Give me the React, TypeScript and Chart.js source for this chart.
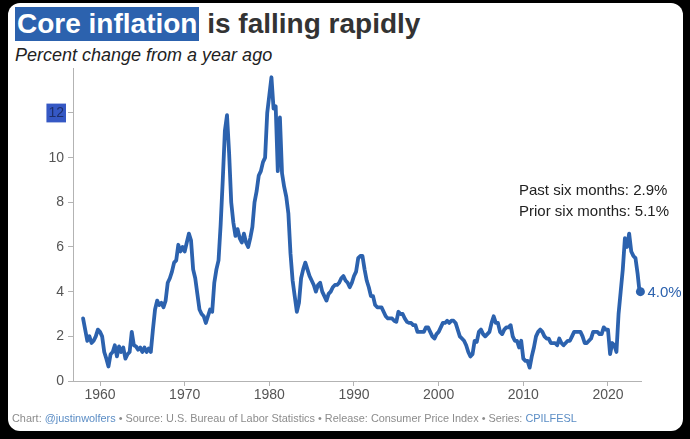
import React, { useEffect, useRef } from "react";
import { Chart, registerables } from "chart.js";

Chart.register(...registerables);

// Core CPI (CPILFESL), percent change from a year ago, quarterly readings 1958-2022
const firstYear = 1958;
const quarterlyValues: number[] = [
  // 1958-1967
  2.8, 2.3, 1.8, 2.0, 1.7, 1.8, 2.0, 2.3, 2.2, 2.0, 1.3, 1.0, 0.65, 1.2, 1.3, 1.6,
  1.1, 1.55, 1.3, 1.5, 1.0, 1.2, 1.3, 2.2, 1.6, 1.55, 1.4, 1.5, 1.3, 1.5, 1.3, 1.45,
  1.3, 2.3, 3.2, 3.6, 3.4, 3.5, 3.3, 3.6,
  // 1968-1977
  4.4, 4.6, 4.9, 5.3, 5.4, 6.1, 5.8, 6.0, 5.8, 6.2, 6.6, 6.3, 5.0, 4.6, 3.9, 3.2,
  3.0, 2.9, 2.6, 2.9, 3.2, 3.1, 4.4, 5.0, 5.4, 7.0, 9.0, 11.2, 11.9, 10.2, 8.0, 7.1,
  6.5, 6.8, 6.4, 6.2, 6.6, 6.2, 6.0, 6.4,
  // 1978-1987
  6.9, 8.0, 8.5, 9.2, 9.4, 9.8, 10.0, 12.0, 12.8, 13.6, 12.2, 12.3, 9.4, 11.8, 9.3, 8.7,
  8.25, 7.5, 5.7, 4.5, 3.8, 3.1, 3.5, 4.6, 5.0, 5.3, 5.0, 4.7, 4.5, 4.3, 4.0, 4.3,
  4.4, 4.0, 3.8, 3.6, 3.9, 4.0, 4.2, 4.3,
  // 1988-1997
  4.3, 4.4, 4.6, 4.7, 4.5, 4.4, 4.2, 4.4, 4.7, 4.9, 5.5, 5.6, 5.6, 5.0, 4.5, 4.2,
  3.8, 3.8, 3.4, 3.3, 3.3, 3.3, 3.1, 2.9, 2.8, 2.8, 2.8, 2.7, 2.65, 3.1, 3.0, 3.0,
  2.8, 2.65, 2.6, 2.6, 2.5, 2.5, 2.2, 2.2,
  // 1998-2007
  2.2, 2.2, 2.4, 2.4, 2.2, 2.0, 1.9, 2.1, 2.2, 2.4, 2.6, 2.6, 2.7, 2.6, 2.7, 2.7,
  2.6, 2.3, 2.0, 1.9, 1.8, 1.6, 1.3, 1.1, 1.2, 1.8, 1.75, 2.2, 2.3, 2.1, 2.0, 2.1,
  2.2, 2.6, 2.9, 2.6, 2.6, 2.2, 2.1, 2.3,
  // 2008-2017
  2.4, 2.4, 2.5, 2.0, 1.8, 1.8, 1.5, 1.8, 1.0, 0.9, 0.9, 0.6, 1.1, 1.5, 2.0, 2.2,
  2.3, 2.2, 2.0, 1.9, 1.9, 1.7, 1.7, 1.7, 1.6, 1.9, 1.7, 1.6, 1.7, 1.8, 1.8, 2.0,
  2.2, 2.2, 2.2, 2.2, 2.0, 1.7, 1.7, 1.8,
  // 2018-2022
  1.9, 2.2, 2.2, 2.2, 2.1, 2.1, 2.4, 2.3, 2.3, 1.2, 1.7, 1.6, 1.3, 3.0, 4.0, 5.0,
  6.4, 6.0, 6.6, 5.8,
];
// 2023 readings
const tailYears = [2023.0, 2023.25, 2023.5, 2023.67, 2023.83];
const tailValues = [5.6, 5.5, 4.8, 4.2, 4.0];

const xTickValues = [1960, 1970, 1980, 1990, 2000, 2010, 2020];
const yTickValues = [0, 2, 4, 6, 8, 10, 12];
const xMin = 1956.81;
const xMax = 2023.9;
const yMin = 0;
const yMax = 14;

const lastLabel = "4.0%";
const noteLines = ["Past six months: 2.9%", "Prior six months: 5.1%"];

const BLUE = "#2c62ae";
const FONT = "'Liberation Sans', Arial, Helvetica, sans-serif";

export default function App() {
  const ref = useRef<HTMLCanvasElement | null>(null);

  useEffect(() => {
    if (!ref.current) return;
    const points = quarterlyValues.map((v, i) => ({ x: firstYear + i / 4, y: v }));
    tailYears.forEach((yr, i) => points.push({ x: yr, y: tailValues[i] }));
    const lastIdx = points.length - 1;

    const endLabel = {
      id: "endLabel",
      afterDatasetsDraw(chart: any) {
        const meta = chart.getDatasetMeta(0);
        const el = meta.data[lastIdx];
        if (!el) return;
        const c = chart.ctx;
        c.save();
        c.font = `15px ${FONT}`;
        c.fillStyle = BLUE;
        c.textBaseline = "middle";
        c.textAlign = "left";
        c.fillText(lastLabel, el.x + 7, el.y + 1);
        c.restore();
      },
    };

    const chart = new Chart(ref.current, {
      type: "line",
      data: {
        datasets: [
          {
            data: points,
            borderColor: BLUE,
            backgroundColor: BLUE,
            borderWidth: 3.8,
            borderJoinStyle: "round",
            borderCapStyle: "round",
            tension: 0,
            clip: false as any,
            pointRadius: (ctx: any) => (ctx.dataIndex === lastIdx ? 4.5 : 0),
            pointBackgroundColor: BLUE,
            pointBorderWidth: 0,
            pointHoverRadius: 0,
          },
        ],
      },
      options: {
        responsive: false,
        animation: false,
        events: [],
        layout: { padding: { left: 33, right: 49, top: 68.33, bottom: 28 } },
        plugins: { legend: { display: false }, tooltip: { enabled: false } },
        scales: {
          x: {
            type: "linear",
            min: xMin,
            max: xMax,
            afterFit: (s: any) => {
              s.height = 30;
            },
            afterBuildTicks: (s: any) => {
              s.ticks = xTickValues.map((v) => ({ value: v }));
            },
            grid: { drawOnChartArea: false, color: "#b3b3b3", tickLength: 5, lineWidth: 1 },
            border: { color: "#b3b3b3", width: 1 },
            ticks: {
              color: "#555",
              font: { family: FONT, size: 14 },
              padding: 1,
              maxRotation: 0,
              callback: (v: any) => String(v),
            },
          },
          y: {
            type: "linear",
            min: yMin,
            max: yMax,
            afterFit: (s: any) => {
              s.width = 40;
            },
            afterBuildTicks: (s: any) => {
              s.ticks = yTickValues.map((v) => ({ value: v }));
            },
            grid: { drawOnChartArea: false, color: "#b3b3b3", tickLength: 5, lineWidth: 1 },
            border: { color: "#b3b3b3", width: 1 },
            ticks: {
              color: (ctx: any) => (ctx.tick && ctx.tick.value === 12 ? "#1d2f6b" : "#555"),
              font: { family: FONT, size: 14 },
              padding: 4,
              showLabelBackdrop: true,
              backdropColor: (ctx: any) =>
                ctx.tick && ctx.tick.value === 12 ? "#3558c4" : "rgba(0,0,0,0)",
              backdropPadding: { top: 1, bottom: 1, left: 2, right: 2 },
              callback: (v: any) => String(v),
            },
          },
        },
      },
      plugins: [endLabel],
    } as any);
    return () => chart.destroy();
  }, []);

  return (
    <div
      style={{
        position: "fixed",
        left: 0,
        top: 0,
        width: 690,
        height: 439,
        background: "#000",
        fontFamily: FONT,
        overflow: "hidden",
      }}
    >
      <div
        style={{
          position: "absolute",
          left: 8,
          top: 3,
          width: 675,
          height: 428,
          background: "#fff",
          borderRadius: 12,
        }}
      />
      <div
        style={{
          position: "absolute",
          left: 15,
          top: 7,
          height: 34,
          lineHeight: "34px",
          fontSize: 28,
          fontWeight: "bold",
          color: "#333",
          whiteSpace: "nowrap",
        }}
      >
        <span style={{ background: BLUE, color: "#fff", padding: "0 2px", display: "inline-block", height: 34 }}>
          Core inflation
        </span>
        <span> is falling rapidly</span>
      </div>
      <div
        style={{
          position: "absolute",
          left: 15,
          top: 44,
          fontSize: 18,
          lineHeight: "23px",
          fontStyle: "italic",
          color: "#222",
          whiteSpace: "nowrap",
        }}
      >
        Percent change from a year ago
      </div>
      <canvas
        ref={ref}
        width={690}
        height={439}
        style={{ position: "absolute", left: 0, top: 0, width: 690, height: 439 }}
      />
      <div
        style={{
          position: "absolute",
          left: 519,
          top: 179,
          fontSize: 15,
          lineHeight: "21px",
          color: "#222",
          whiteSpace: "nowrap",
        }}
      >
        {noteLines.map((t) => (
          <div key={t}>{t}</div>
        ))}
      </div>
      <div
        style={{
          position: "absolute",
          left: 12,
          top: 411,
          fontSize: 10.9,
          lineHeight: "14px",
          color: "#8c8c8c",
          whiteSpace: "nowrap",
        }}
      >
        Chart: <span style={{ color: "#5b8dc5" }}>@justinwolfers</span> • Source: U.S. Bureau of Labor
        Statistics • Release: Consumer Price Index • Series: <span style={{ color: "#5b8dc5" }}>CPILFESL</span>
      </div>
    </div>
  );
}
